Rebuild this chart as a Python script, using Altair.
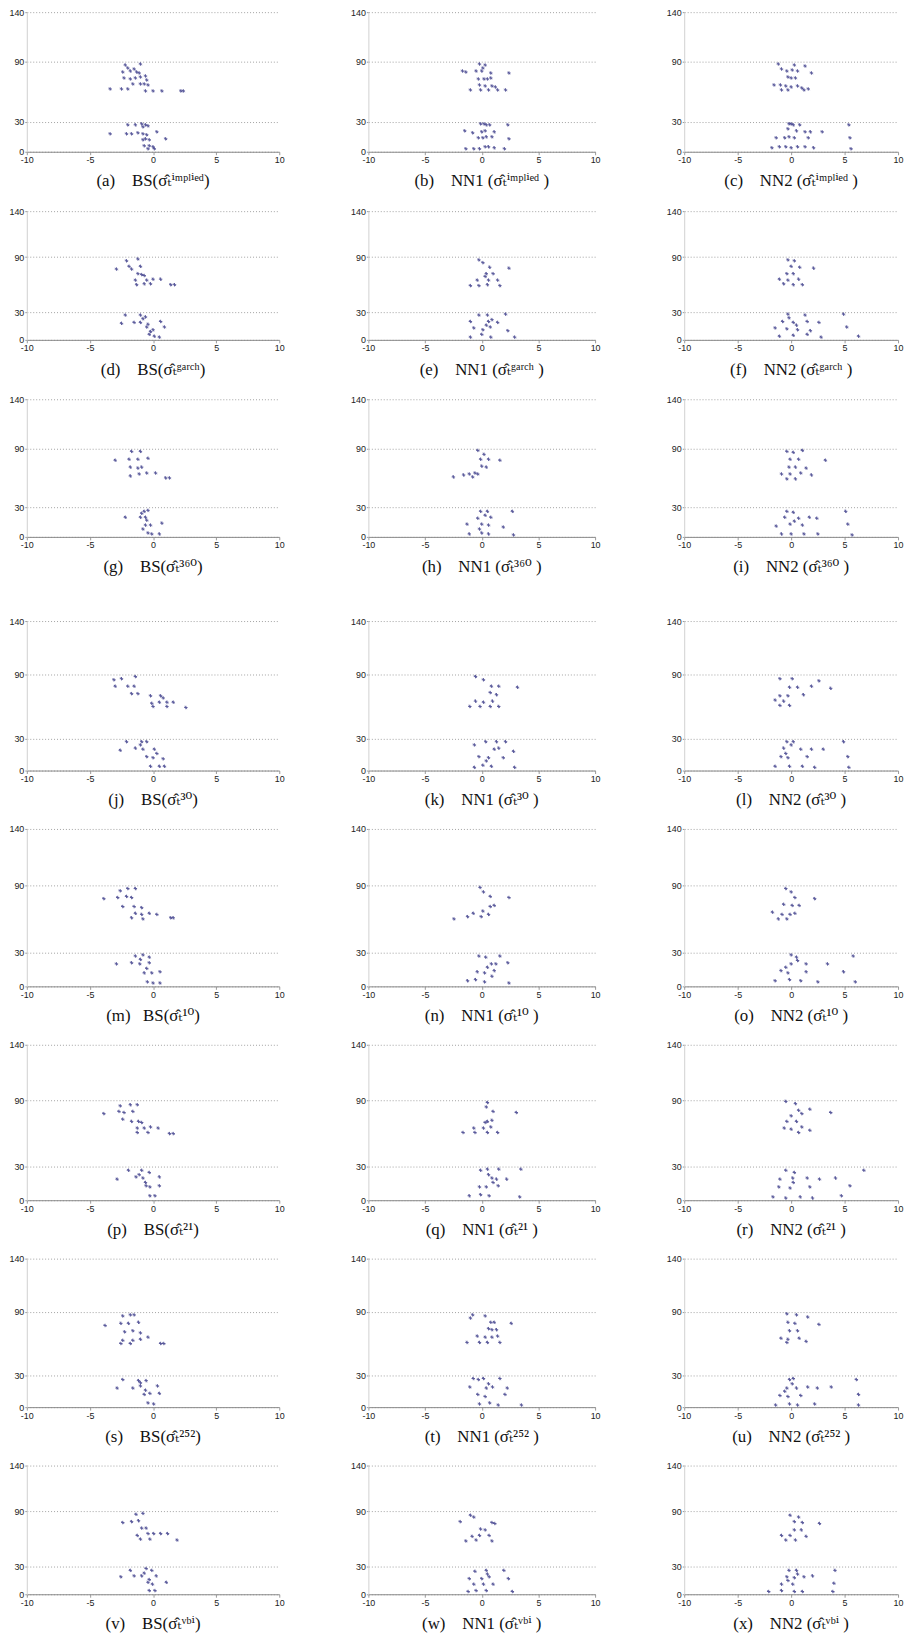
import altair as alt
import pandas as pd

# ---- axis ticks / domains ----
XT = [-10, -5, 0, 5, 10]
YT = [0, 30, 90, 140]

# ---- panel labels ----
LABELS = [
    "(a)\u00a0\u00a0\u00a0\u00a0BS(σ\u0302ₜⁱᵐᵖˡⁱᵉᵈ)",
    "(b)\u00a0\u00a0\u00a0\u00a0NN1 (σ\u0302ₜⁱᵐᵖˡⁱᵉᵈ\u00a0)",
    "(c)\u00a0\u00a0\u00a0\u00a0NN2 (σ\u0302ₜⁱᵐᵖˡⁱᵉᵈ\u00a0)",
    "(d)\u00a0\u00a0\u00a0\u00a0BS(σ\u0302ₜᵍᵃʳᶜʰ)",
    "(e)\u00a0\u00a0\u00a0\u00a0NN1 (σ\u0302ₜᵍᵃʳᶜʰ\u00a0)",
    "(f)\u00a0\u00a0\u00a0\u00a0NN2 (σ\u0302ₜᵍᵃʳᶜʰ\u00a0)",
    "(g)\u00a0\u00a0\u00a0\u00a0BS(σ\u0302ₜ³⁶⁰)",
    "(h)\u00a0\u00a0\u00a0\u00a0NN1 (σ\u0302ₜ³⁶⁰\u00a0)",
    "(i)\u00a0\u00a0\u00a0\u00a0NN2 (σ\u0302ₜ³⁶⁰\u00a0)",
    "(j)\u00a0\u00a0\u00a0\u00a0BS(σ\u0302ₜ³⁰)",
    "(k)\u00a0\u00a0\u00a0\u00a0NN1 (σ\u0302ₜ³⁰\u00a0)",
    "(l)\u00a0\u00a0\u00a0\u00a0NN2 (σ\u0302ₜ³⁰\u00a0)",
    "(m)\u00a0\u00a0\u00a0BS(σ\u0302ₜ¹⁰)",
    "(n)\u00a0\u00a0\u00a0\u00a0NN1 (σ\u0302ₜ¹⁰\u00a0)",
    "(o)\u00a0\u00a0\u00a0\u00a0NN2 (σ\u0302ₜ¹⁰\u00a0)",
    "(p)\u00a0\u00a0\u00a0\u00a0BS(σ\u0302ₜ²¹)",
    "(q)\u00a0\u00a0\u00a0\u00a0NN1 (σ\u0302ₜ²¹\u00a0)",
    "(r)\u00a0\u00a0\u00a0\u00a0NN2 (σ\u0302ₜ²¹\u00a0)",
    "(s)\u00a0\u00a0\u00a0\u00a0BS(σ\u0302ₜ²⁵²)",
    "(t)\u00a0\u00a0\u00a0\u00a0NN1 (σ\u0302ₜ²⁵²\u00a0)",
    "(u)\u00a0\u00a0\u00a0\u00a0NN2 (σ\u0302ₜ²⁵²\u00a0)",
    "(v)\u00a0\u00a0\u00a0\u00a0BS(σ\u0302ₜᵛᵇⁱ)",
    "(w)\u00a0\u00a0\u00a0\u00a0NN1 (σ\u0302ₜᵛᵇⁱ\u00a0)",
    "(x)\u00a0\u00a0\u00a0\u00a0NN2 (σ\u0302ₜᵛᵇⁱ\u00a0)",
]

# ---- data (x, y) per panel ----
a_pts = [(-2.2,87),(-1.0,88),(-2.0,84),(-1.5,83),(-2.4,80),(-1.8,81),(-1.3,80),(-1.1,79),(-2.3,74),(-1.8,73),(-1.4,74),(-1.0,75),(-0.6,76),(-0.5,72),(-1.6,68),(-1.0,68),(-0.7,68),(-0.4,67),(-3.4,63),(-2.5,63),(-2.0,63),(-0.6,61),(0.0,61),(0.7,61),(2.2,61),(2.4,61),
         (-2.0,27),(-1.4,27),(-0.9,28),(-0.6,27),(-0.4,26),(-0.8,25),(-3.4,18),(-2.1,18),(-1.7,18),(-1.2,19),(-0.8,18),(-0.5,17),(0.3,20),(-0.6,13),(-0.3,12),(-0.8,12),(1.0,13),(-0.7,6),(-0.3,6),(0.0,5),(-0.4,3),(0.1,3)]
b_pts = [(-0.2,88),(0.3,87),(0.1,84),(-1.7,81),(-1.4,80),(-0.5,81),(0.0,81),(0.8,79),(2.4,79),(-0.3,73),(0.2,73),(0.5,73),(0.8,74),(-0.2,67),(0.3,66),(0.9,66),(1.2,65),(-1.0,62),(-0.1,62),(0.6,62),(1.4,62),(2.1,62),
         (-0.1,28),(0.2,28),(0.4,27),(0.7,27),(2.3,27),(-1.5,21),(-0.8,19),(0.0,20),(0.3,21),(1.1,20),(-0.3,14),(0.1,14),(0.4,15),(0.9,15),(2.4,13),(-1.4,3),(-0.7,3),(-0.2,3),(0.3,5),(0.6,5),(1.1,4),(2.0,3)]
c_pts = [(-1.2,88),(0.3,87),(1.3,86),(-0.9,83),(-0.4,81),(0.1,82),(0.6,81),(1.9,79),(-0.3,75),(0.0,74),(0.4,74),(-1.6,67),(-1.0,67),(-0.5,66),(0.0,65),(0.6,66),(1.0,64),(1.6,63),(-0.9,62),(-0.3,62),(1.2,62),
         (-0.2,28),(0.0,28),(0.2,27),(0.8,27),(5.4,27),(-0.3,23),(0.5,21),(1.3,20),(1.8,20),(2.9,20),(-1.4,14),(-0.6,14),(-0.2,15),(0.3,14),(1.6,14),(5.5,14),(-1.8,4),(-1.1,5),(-0.5,5),(0.0,4),(0.6,5),(1.3,5),(2.1,4),(5.6,3)]
d_pts = [(-2.1,86),(-1.2,88),(-1.9,80),(-1.0,80),(-2.9,77),(-1.7,77),(-1.2,72),(-0.9,71),(-0.7,70),(-1.4,65),(-0.5,65),(0.0,66),(0.6,66),(-1.3,60),(-0.7,61),(-0.2,61),(1.4,60),(1.7,60),
         (-2.2,27),(-1.0,27),(-0.6,25),(-2.5,18),(-1.5,19),(-1.0,19),(-0.4,17),(0.6,20),(-0.5,14),(0.0,11),(0.9,14),(-0.3,6),(0.1,4),(0.5,3),(-0.8,23),(-0.2,9)]
e_pts = [(-0.25,87),(0.1,84),(0.7,79),(2.4,78),(0.4,72),(1.0,72),(0.3,69),(-0.4,65),(0.6,65),(1.4,65),(-1.0,59),(-0.25,59),(0.5,60),(1.6,59),
         (-0.25,27),(0.5,27),(2.1,28),(-1.0,20),(0.6,20),(1.4,19),(-0.7,13),(0.1,11),(0.75,14),(2.3,10),(0.0,6),(-1.0,3),(0.8,3),(2.9,3),(0.9,22),(0.4,16)]
f_pts = [(-0.3,87),(0.3,86),(0.0,80),(0.8,79),(2.1,78),(-0.4,72),(0.2,72),(-1.1,66),(-0.3,65),(0.7,66),(-0.7,61),(0.2,60),(1.05,60),
         (-0.3,28),(1.3,27),(4.9,28),(-0.8,20),(0.2,19),(1.5,20),(2.6,19),(-1.5,13),(-0.4,12),(0.6,11),(1.8,10),(5.2,14),(-1.1,4),(0.2,5),(1.5,6),(2.8,3),(6.3,4),(-0.2,24),(0.5,16)]
g_pts = [(-1.7,87),(-1.0,87),(-3.0,78),(-1.9,79),(-1.2,79),(-0.4,80),(-1.8,71),(-1.2,70),(-0.9,71),(-1.8,62),(-1.1,64),(-0.5,65),(0.2,65),(1.0,60),(1.3,60),
         (-0.7,26),(-0.4,27),(-2.2,20),(-1.0,20),(-0.6,20),(0.7,14),(-0.6,12),(-0.2,12),(-0.4,4),(-0.1,3),(0.5,3),(-0.9,24),(-0.5,17),(-0.8,8)]
h_pts = [(-0.35,88),(0.2,84),(-0.1,79),(0.6,79),(1.6,78),(0.0,72),(0.4,71),(-0.6,65),(-1.1,64),(-1.6,63),(-2.5,61),(-0.35,64),(-0.8,61),
         (-0.1,26),(0.5,26),(2.7,26),(-0.35,19),(0.8,20),(-1.3,13),(0.0,13),(0.6,12),(1.9,10),(-1.1,3),(0.0,4),(0.6,3),(2.8,2),(0.3,22),(-0.2,8)]
i_pts = [(-0.4,87),(0.2,86),(1.05,88),(-0.1,79),(0.7,79),(3.2,78),(-0.2,71),(0.4,71),(1.4,70),(-0.9,64),(-0.1,64),(0.9,65),(1.9,63),(-0.4,59),(0.4,59),
         (-0.4,26),(0.2,25),(5.1,26),(-0.6,20),(0.7,19),(1.7,20),(2.4,19),(-1.4,11),(-0.1,13),(1.05,12),(5.3,13),(-0.9,3),(0.0,3),(1.2,3),(2.5,3),(5.7,2),(0.3,16)]
j_pts = [(-3.1,85),(-2.5,86),(-1.4,88),(-3.0,79),(-2.0,79),(-1.5,79),(-1.7,72),(-1.2,72),(-0.2,70),(0.6,70),(0.8,68),(-0.1,63),(0.5,64),(1.1,64),(1.6,64),(0.0,60),(1.1,60),(2.6,59),
         (-2.1,27),(-0.9,27),(-0.5,27),(-1.4,21),(-0.8,20),(0.1,20),(-2.6,19),(-0.5,13),(0.0,12),(0.8,11),(-0.2,4),(0.5,4),(0.9,4),(-1.0,24),(0.3,16)]
k_pts = [(-0.55,88),(0.15,85),(0.85,79),(1.5,79),(3.15,78),(0.75,73),(1.3,71),(-0.55,65),(0.15,64),(0.95,65),(-1.05,60),(-0.15,60),(0.75,60),(1.5,60),
         (-0.65,24),(0.35,27),(1.3,27),(2.1,27),(1.1,20),(2.8,18),(-0.25,13),(0.6,12),(1.9,12),(0.1,5),(-0.65,3),(0.85,4),(2.9,3),(1.5,21),(0.4,9)]
l_pts = [(-1.05,86),(0.1,86),(2.6,84),(-0.15,78),(0.6,78),(1.9,79),(3.7,77),(-1.05,70),(-0.3,70),(1.15,71),(-1.5,66),(-0.7,65),(-1.05,61),(-0.15,61),
         (-0.4,27),(0.2,27),(4.9,27),(-0.7,21),(0.9,20),(1.9,20),(3.0,20),(-0.95,13),(-0.3,12),(1.5,13),(5.3,13),(-1.5,4),(-0.15,4),(1.05,4),(2.2,3),(5.4,3),(0.0,24),(-0.5,16)]
m_pts = [(-2.6,85),(-2.0,87),(-1.4,87),(-3.9,78),(-2.8,79),(-2.1,80),(-1.7,79),(-2.4,71),(-1.5,71),(-0.9,70),(-1.4,65),(-0.9,64),(-0.3,65),(0.3,64),(-1.7,61),(-0.8,60),(1.4,61),(1.6,61),
         (-1.4,27),(-0.8,28),(-0.3,26),(-2.9,20),(-1.7,21),(-1.05,20),(-0.3,21),(-0.7,12),(-0.1,12),(0.55,13),(-0.45,4),(0.0,3),(0.55,3),(-1.0,24),(-0.5,16)]
n_pts = [(-0.15,88),(0.15,84),(0.75,80),(2.4,79),(0.75,71),(1.1,72),(0.1,67),(-0.75,65),(-1.25,62),(-2.45,60),(-0.05,62),(0.6,64),
         (-0.25,27),(0.35,26),(1.6,27),(0.85,20),(1.25,20),(2.3,21),(-0.4,13),(0.25,12),(1.1,14),(-1.25,5),(-0.55,6),(0.25,4),(2.4,3),(0.5,17),(0.9,9)]
o_pts = [(-0.5,87),(0.0,84),(0.35,79),(2.2,78),(-0.7,73),(0.1,72),(0.75,72),(-1.75,66),(-0.85,64),(-0.1,64),(0.35,65),(-1.2,60),(-0.4,60),
         (0.0,28),(0.5,26),(5.8,27),(0.0,20),(1.4,20),(3.4,20),(-0.95,14),(-0.3,12),(1.4,13),(4.9,13),(-1.5,5),(-0.15,6),(0.9,5),(2.5,4),(6.0,4),(-0.5,17),(0.6,23)]
p_pts = [(-2.6,85),(-1.8,86),(-1.25,86),(-3.9,78),(-2.7,80),(-2.3,79),(-1.6,80),(-2.4,73),(-1.7,71),(-1.15,71),(-0.9,70),(-1.25,65),(-0.7,65),(-0.2,66),(0.4,65),(-1.25,61),(-0.4,61),(1.3,60),(1.6,60),
         (-1.95,27),(-0.9,27),(-0.3,25),(-2.85,19),(-1.35,21),(-0.8,20),(0.5,21),(-0.55,13),(-0.25,12),(0.5,13),(-0.25,4),(0.15,4),(-1.1,23),(-0.6,16)]
q_pts = [(0.5,88),(0.4,84),(1.0,80),(3.05,79),(0.5,71),(0.9,72),(0.3,70),(-0.7,65),(0.15,65),(0.8,66),(-1.65,61),(-0.6,61),(0.5,61),(1.4,61),
         (-0.1,27),(0.5,28),(1.5,28),(3.45,28),(0.9,20),(1.3,19),(2.2,19),(-0.2,12),(0.4,12),(1.45,13),(-1.1,4),(-0.1,5),(0.65,4),(3.35,3),(0.6,23),(1.0,16)]
r_pts = [(-0.5,89),(0.4,87),(0.7,81),(1.75,82),(3.7,79),(0.0,76),(1.0,78),(-0.4,71),(0.5,71),(-0.65,65),(0.0,64),(1.0,66),(1.75,63),(0.7,61),
         (-0.5,27),(0.3,25),(6.8,27),(-1.05,19),(0.15,20),(1.5,20),(2.65,19),(4.15,20),(-1.15,12),(-0.1,11),(1.75,12),(5.5,13),(-1.7,3),(-0.5,2),(0.85,3),(2.0,2),(4.7,4),(0.2,16)]
s_pts = [(-2.4,86),(-1.8,87),(-1.5,87),(-3.8,77),(-2.55,79),(-1.95,79),(-1.15,80),(-2.25,71),(-1.6,72),(-1.0,70),(-2.4,63),(-1.6,63),(-1.0,64),(-0.4,66),(-2.55,60),(-1.8,60),(0.6,60),(0.85,60),
         (-2.4,26),(-1.15,25),(-0.55,25),(-2.85,18),(-1.6,18),(-1.0,20),(0.35,20),(-0.7,12),(-0.25,13),(0.5,13),(-0.4,4),(0.05,3),(-1.0,23),(-0.6,16)]
t_pts = [(-0.8,87),(0.3,86),(-1.0,84),(0.8,80),(1.1,80),(2.6,79),(0.6,74),(0.9,73),(1.3,73),(-0.4,67),(0.3,66),(0.9,66),(1.4,67),(-1.3,61),(-0.2,61),(0.5,61),(1.6,61),
         (-0.75,27),(-0.3,26),(0.15,27),(1.6,27),(-1.05,19),(0.4,18),(0.95,19),(2.25,18),(-0.35,12),(0.3,10),(2.05,12),(-0.2,3),(0.7,4),(1.45,2),(3.5,2),(0.6,22)]
u_pts = [(-0.4,88),(0.5,87),(1.55,85),(-0.3,80),(0.35,79),(2.6,78),(-0.15,72),(0.6,72),(-0.95,65),(-0.3,64),(0.75,65),(1.4,62),(-0.4,61),
         (-0.15,26),(0.2,27),(6.1,26),(-0.4,18),(0.5,18),(1.55,19),(2.45,18),(3.75,19),(-1.05,11),(-0.3,10),(0.9,11),(6.3,12),(-1.45,2),(-0.15,3),(0.6,2),(2.2,3),(6.3,2),(0.1,22),(-0.6,15)]
v_pts = [(-1.35,87),(-0.8,88),(-2.4,78),(-1.7,79),(-1.15,80),(-0.9,72),(-0.55,72),(-1.25,64),(-0.4,66),(0.05,66),(0.6,66),(1.15,66),(-1.0,60),(-0.25,60),(1.9,59),
         (-1.8,26),(-0.55,28),(-0.1,26),(-2.55,19),(-1.5,20),(-0.9,20),(0.25,20),(1.05,13),(-0.4,13),(-0.05,11),(-0.3,4),(0.15,4),(-0.7,23),(-0.3,16)]
w_pts = [(-1.0,86),(-0.7,84),(-1.9,79),(0.9,78),(1.15,77),(-0.1,71),(0.3,70),(-0.85,63),(-0.2,64),(0.65,64),(-1.4,58),(-0.5,59),(0.9,58),
         (-0.6,25),(0.4,26),(1.95,26),(-1.1,17),(0.0,17),(0.65,19),(2.35,17),(-0.7,11),(0.15,11),(1.0,11),(-1.2,3),(-0.5,4),(0.4,4),(2.7,3),(0.5,22)]
x_pts = [(-0.1,86),(0.7,84),(0.3,79),(1.05,78),(2.65,77),(0.3,70),(0.95,70),(-0.9,64),(-0.1,64),(1.4,63),(-0.5,59),(0.4,59),
         (-0.2,26),(0.5,26),(4.1,26),(-0.4,19),(0.3,18),(1.2,19),(2.0,20),(-0.9,11),(0.15,11),(4.0,12),(-2.1,3),(-0.9,4),(0.3,3),(1.05,3),(3.9,3),(0.6,22),(-0.3,15)]

PANELS = [a_pts, b_pts, c_pts, d_pts, e_pts, f_pts, g_pts, h_pts, i_pts,
          j_pts, k_pts, l_pts, m_pts, n_pts, o_pts, p_pts, q_pts, r_pts,
          s_pts, t_pts, u_pts, v_pts, w_pts, x_pts]

# ---- layout / style ----
ROW_H = [141, 130, 139, 151, 159, 157, 150, 130]
COL_W = [255, 229, 216]
POINT_COLOR = "#23237a"
PLUS = "M-1,0L1,0M0,-1L0,1M-0.7,-0.7L0.7,0.7"
TICK_FONT = "Liberation Sans Narrow, Arial Narrow, Liberation Sans, Arial, sans-serif"
TITLE_FONT = "Liberation Serif, Times New Roman, DejaVu Serif, serif"
MINUS_FIX = "replace(datum.label, '\u2212', '-')"


def panel(pts, label, w, h):
    df = pd.DataFrame(pts, columns=["x", "y"])
    return alt.Chart(df).mark_point(
        shape=PLUS, filled=False, size=12, strokeWidth=1,
        color=POINT_COLOR, opacity=0.75,
    ).encode(
        x=alt.X("x:Q",
                scale=alt.Scale(domain=[XT[0], XT[-1]], nice=False, zero=False),
                axis=alt.Axis(values=XT, title=None, grid=False, labelFlush=False,
                              labelExpr=MINUS_FIX, domainColor="#8a8a8a",
                              tickColor="#9a9a9a", tickSize=3, labelPadding=1)),
        y=alt.Y("y:Q",
                scale=alt.Scale(domain=[YT[0], YT[-1]], nice=False),
                axis=alt.Axis(values=YT, title=None, grid=True, gridDash=[1, 2],
                              gridColor="#8a8a8a", gridWidth=0.8, labelFlush=False,
                              domainColor="#d0d0d0", tickColor="#9a9a9a",
                              tickSize=2, labelPadding=1)),
    ).properties(
        width=w, height=h,
        title=alt.TitleParams(label, orient="bottom", font=TITLE_FONT, fontSize=17,
                              fontWeight="normal", color="#111111", offset=9,
                              anchor="middle"),
    )


rows = []
for r in range(8):
    cells = [panel(PANELS[r * 3 + c], LABELS[r * 3 + c], COL_W[c], ROW_H[r])
             for c in range(3)]
    rows.append(alt.hconcat(*cells, spacing=65))

top = alt.vconcat(*rows[:3], spacing=18)
bottom = alt.vconcat(*rows[3:], spacing=17)

chart = alt.vconcat(top, bottom, spacing=43).properties(
    padding={"top": -8, "left": 0, "right": 0, "bottom": 0}, background="white"
).configure_view(stroke=None).configure_axis(
    labelFont=TICK_FONT, labelFontSize=9, labelColor="#222222"
)

chart.save("out.html", embed_options={"renderer": "svg", "actions": False})
